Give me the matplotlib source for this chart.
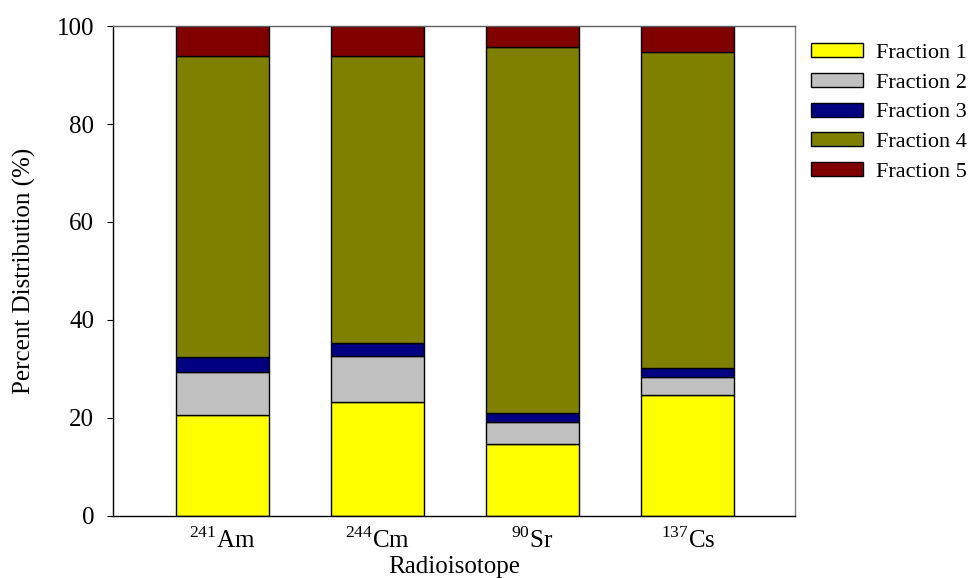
import numpy as np
import matplotlib
matplotlib.use("Agg")
import matplotlib.pyplot as plt

plt.rcParams['font.family'] = ['Liberation Serif', 'DejaVu Serif']
plt.rcParams['mathtext.fontset'] = 'custom'
plt.rcParams['mathtext.rm'] = 'Liberation Serif'

# data (percent)
isotopes = [r'$^{241}$Am', r'$^{244}$Cm', r'$^{90}$Sr', r'$^{137}$Cs']
fraction_1 = [20.6, 23.3, 14.6, 24.7]
fraction_2 = [8.8, 9.3, 4.6, 3.6]
fraction_3 = [3.0, 2.8, 1.8, 1.9]
fraction_4 = [61.5, 58.5, 74.8, 64.5]
fraction_5 = [6.1, 6.1, 4.2, 5.3]

names = ['Fraction 1', 'Fraction 2', 'Fraction 3', 'Fraction 4', 'Fraction 5']
colors = ['#ffff00', '#c0c0c0', '#000080', '#808000', '#800000']
series = [fraction_1, fraction_2, fraction_3, fraction_4, fraction_5]

fig = plt.figure(figsize=(9.7, 5.78), dpi=100)
ax = fig.add_axes([0.1165, 0.1073, 0.703, 0.8477])

x = np.arange(len(isotopes))
bottom = np.zeros(len(isotopes))
for name, vals, col in zip(names, series, colors):
    ax.bar(x, vals, width=0.6, bottom=bottom, color=col, edgecolor='black',
           linewidth=1, label=name)
    bottom += np.array(vals)

ax.set_xlim(-0.705, 3.69)
ax.set_ylim(0, 100)
ax.set_xticks(x)
ax.set_xticklabels(isotopes, fontsize=18)
ax.set_yticks(np.arange(0, 101, 20))
ax.tick_params(axis='y', labelsize=18, direction='out', length=4.5, pad=9)
ax.tick_params(axis='x', length=0, pad=8)
ax.set_xlabel('Radioisotope', fontsize=18)
ax.xaxis.set_label_coords(0.5, -0.081)
ax.set_ylabel('Percent Distribution (%)', fontsize=18, labelpad=15)
for s in ax.spines.values():
    s.set_linewidth(1)
ax.spines['right'].set_color('#808080')
ax.spines['top'].set_color('#606060')

fig.legend(loc='upper left', bbox_to_anchor=(0.836, 0.925),
           bbox_transform=fig.transFigure, frameon=False,
           fontsize=16, handlelength=2.34, handleheight=0.59,
           labelspacing=0.44, handletextpad=0.6, borderaxespad=0, borderpad=0)

fig.savefig('out.png', dpi=100)
